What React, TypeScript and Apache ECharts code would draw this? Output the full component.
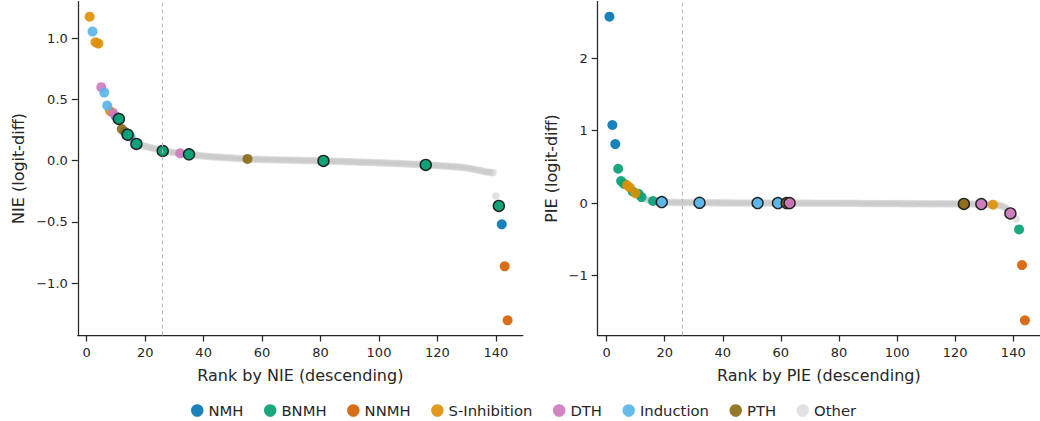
import { useEffect, useRef } from 'react';
import * as echarts from 'echarts';

const FONT = 'DejaVu Sans';

const categories = ['NMH', 'BNMH', 'NNMH', 'S-Inhibition', 'DTH', 'Induction', 'PTH', 'Other'];
const categoryColors: Record<string, string> = {
  NMH: '#0173b2',
  BNMH: '#029e73',
  NNMH: '#d55e00',
  'S-Inhibition': '#de8f05',
  DTH: '#cc78bc',
  Induction: '#56b4e9',
  PTH: '#8b6914',
  Other: '#bdbdbd',
};

const xTicks = [0, 20, 40, 60, 80, 100, 120, 140];
const nieTicks = [-1, -0.5, 0, 0.5, 1];
const pieTicks = [-1, 0, 1, 2];
const cutoffRank = 26;

// NIE values sorted descending, rank 1..144
const nieValues = [
  1.176, 1.054, 0.967, 0.956, 0.600, 0.556, 0.450, 0.405, 0.390, 0.360,
  0.341, 0.258, 0.236, 0.212, 0.195, 0.165, 0.137, 0.128, 0.122, 0.117,
  0.112, 0.106, 0.100, 0.094, 0.087, 0.079, 0.075, 0.072, 0.069, 0.066,
  0.063, 0.060, 0.057, 0.055, 0.052, 0.049, 0.046, 0.043, 0.040, 0.038,
  0.036, 0.034, 0.032, 0.030, 0.029, 0.027, 0.026, 0.024, 0.023, 0.021,
  0.020, 0.018, 0.017, 0.015, 0.014, 0.013, 0.012, 0.011, 0.011, 0.010,
  0.009, 0.009, 0.008, 0.007, 0.007, 0.006, 0.006, 0.005, 0.005, 0.004,
  0.004, 0.003, 0.003, 0.002, 0.002, 0.001, 0.001, 0.000, 0.000, -0.001,
  -0.002, -0.003, -0.003, -0.004, -0.005, -0.005, -0.006, -0.007, -0.008, -0.008,
  -0.009, -0.010, -0.011, -0.012, -0.013, -0.013, -0.014, -0.015, -0.016, -0.017,
  -0.018, -0.019, -0.020, -0.021, -0.022, -0.023, -0.024, -0.025, -0.026, -0.027,
  -0.028, -0.029, -0.030, -0.032, -0.033, -0.035, -0.036, -0.037, -0.038, -0.040,
  -0.041, -0.043, -0.044, -0.046, -0.047, -0.049, -0.051, -0.053, -0.055, -0.060,
  -0.064, -0.068, -0.073, -0.078, -0.083, -0.088, -0.092, -0.095, -0.098, -0.288,
  -0.370, -0.520, -0.863, -1.304,
];

// PIE values sorted descending, rank 1..144
const pieValues = [
  2.575, 1.078, 0.815, 0.474, 0.304, 0.265, 0.250, 0.215, 0.160, 0.134,
  0.128, 0.082, 0.060, 0.045, 0.035, 0.028, 0.022, 0.018, 0.014, 0.012,
  0.011, 0.010, 0.009, 0.009, 0.008, 0.008, 0.007, 0.007, 0.006, 0.006,
  0.005, 0.004, 0.004, 0.004, 0.003, 0.003, 0.003, 0.003, 0.002, 0.002,
  0.002, 0.002, 0.002, 0.001, 0.001, 0.001, 0.001, 0.001, 0.001, 0.000,
  0.000, 0.000, 0.000, 0.000, 0.000, 0.000, 0.000, 0.000, 0.000, 0.000,
  0.000, 0.000, 0.000, -0.001, -0.001, -0.001, -0.001, -0.001, -0.001, -0.001,
  -0.002, -0.002, -0.002, -0.002, -0.002, -0.003, -0.003, -0.003, -0.003, -0.003,
  -0.003, -0.004, -0.004, -0.004, -0.004, -0.004, -0.005, -0.005, -0.005, -0.005,
  -0.005, -0.006, -0.006, -0.006, -0.006, -0.006, -0.007, -0.007, -0.007, -0.007,
  -0.007, -0.008, -0.008, -0.008, -0.008, -0.008, -0.009, -0.009, -0.009, -0.009,
  -0.009, -0.010, -0.010, -0.010, -0.010, -0.010, -0.011, -0.011, -0.011, -0.011,
  -0.012, -0.012, -0.012, -0.012, -0.012, -0.013, -0.013, -0.013, -0.014, -0.015,
  -0.017, -0.019, -0.022, -0.026, -0.032, -0.042, -0.058, -0.085, -0.143, -0.170,
  -0.220, -0.364, -0.857, -1.620,
];

// [rank, category] of coloured (non-outlined) points
const nieColored: [number, string][] = [
  [1, 'S-Inhibition'], [2, 'Induction'], [3, 'S-Inhibition'], [4, 'S-Inhibition'],
  [5, 'DTH'], [6, 'Induction'], [7, 'Induction'], [8, 'S-Inhibition'], [9, 'DTH'],
  [10, 'NMH'], [12, 'PTH'], [13, 'NMH'], [15, 'Induction'], [32, 'DTH'], [55, 'PTH'],
  [142, 'NMH'], [143, 'NNMH'], [144, 'NNMH'],
];
// [rank, category] of outlined points
const nieOutlined: [number, string][] = [
  [11, 'BNMH'], [14, 'BNMH'], [17, 'BNMH'], [26, 'BNMH'], [35, 'BNMH'],
  [81, 'BNMH'], [116, 'BNMH'], [141, 'BNMH'],
];

const pieColored: [number, string][] = [
  [1, 'NMH'], [2, 'NMH'], [3, 'NMH'], [4, 'BNMH'], [5, 'BNMH'], [6, 'BNMH'],
  [7, 'S-Inhibition'], [8, 'S-Inhibition'], [9, 'BNMH'], [10, 'S-Inhibition'],
  [11, 'BNMH'], [12, 'BNMH'], [16, 'BNMH'], [133, 'S-Inhibition'], [142, 'BNMH'],
  [143, 'NNMH'], [144, 'NNMH'],
];
const pieOutlined: [number, string][] = [
  [19, 'Induction'], [32, 'Induction'], [52, 'Induction'], [59, 'Induction'],
  [62, 'PTH'], [63, 'DTH'], [123, 'PTH'], [129, 'DTH'], [139, 'DTH'],
];

const textColor = '#262626';

function buildSeries(
  values: number[],
  colored: [number, string][],
  outlined: [number, string][],
  axisIndex: number,
) {
  const used = new Set<number>([...colored.map((d) => d[0]), ...outlined.map((d) => d[0])]);
  const other = values
    .map((v, i) => [i + 1, v])
    .filter((d) => !used.has(d[0] as number));
  const series: any[] = [];
  series.push({
    name: 'Other',
    type: 'scatter',
    xAxisIndex: axisIndex,
    yAxisIndex: axisIndex,
    data: other,
    symbolSize: 7.5,
    itemStyle: { color: categoryColors.Other, opacity: 0.45 },
    silent: true,
    z: 1,
    markLine: {
      silent: true,
      symbol: ['none', 'none'],
      label: { show: false },
      lineStyle: { color: '#b8b8b8', width: 1, type: [4, 3] },
      data: [{ xAxis: cutoffRank }],
    },
  });
  categories
    .filter((c) => c !== 'Other')
    .forEach((c) => {
      series.push({
        name: c,
        type: 'scatter',
        xAxisIndex: axisIndex,
        yAxisIndex: axisIndex,
        data: colored.filter((d) => d[1] === c).map((d) => [d[0], values[d[0] - 1]]),
        symbolSize: 10,
        itemStyle: { color: categoryColors[c], opacity: 0.9 },
        z: 2,
      });
    });
  series.push({
    name: 'Highlighted',
    type: 'scatter',
    xAxisIndex: axisIndex,
    yAxisIndex: axisIndex,
    data: outlined.map((d) => ({
      value: [d[0], values[d[0] - 1]],
      itemStyle: { color: categoryColors[d[1]] },
    })),
    symbolSize: 11,
    itemStyle: { borderColor: '#1a1a1a', borderWidth: 1.4, opacity: 0.95 },
    z: 3,
  });
  return series;
}

function xAxis(gridIndex: number, name: string) {
  return {
    type: 'value',
    gridIndex,
    min: -3.05,
    max: 149.2,
    name,
    nameLocation: 'middle',
    nameGap: 32,
    nameTextStyle: { color: textColor, fontSize: 16, fontFamily: FONT },
    axisLine: { show: true, onZero: false, lineStyle: { color: textColor, width: 1.25 } },
    axisTick: { show: true, length: 6, customValues: xTicks, lineStyle: { color: textColor, width: 1.25 } },
    axisLabel: { customValues: xTicks, color: textColor, fontSize: 13, fontFamily: FONT, margin: 10 },
    splitLine: { show: false },
  };
}

function yAxis(gridIndex: number, name: string, min: number, max: number, ticks: number[], digits: number, gap: number) {
  return {
    type: 'value',
    gridIndex,
    min,
    max,
    name,
    nameLocation: 'middle',
    nameGap: gap,
    nameTextStyle: { color: textColor, fontSize: 16, fontFamily: FONT },
    axisLine: { show: true, onZero: false, lineStyle: { color: textColor, width: 1.25 } },
    axisTick: { show: true, length: 6, customValues: ticks, lineStyle: { color: textColor, width: 1.25 } },
    axisLabel: {
      customValues: ticks,
      color: textColor,
      fontSize: 13,
      fontFamily: FONT,
      margin: 10,
      formatter: (v: number) => v.toFixed(digits).replace('-', '\u2212'),
    },
    splitLine: { show: false },
  };
}

export default function App() {
  const ref = useRef<HTMLDivElement>(null);

  useEffect(() => {
    document.body.style.margin = '0';
    if (!ref.current) return;
    const chart = echarts.init(ref.current, null, { renderer: 'svg' });
    chart.setOption({
      animation: false,
      backgroundColor: '#ffffff',
      textStyle: { fontFamily: FONT },
      grid: [
        { left: 77.8, top: 1.5, width: 445, height: 334 },
        { left: 597.7, top: 1.5, width: 445, height: 334 },
      ],
      xAxis: [xAxis(0, 'Rank by NIE (descending)'), xAxis(1, 'Rank by PIE (descending)')],
      yAxis: [
        yAxis(0, 'NIE (logit-diff)', -1.428, 1.3, nieTicks, 1, 51),
        yAxis(1, 'PIE (logit-diff)', -1.83, 2.785, pieTicks, 0, 38),
      ],
      legend: {
        data: categories,
        left: 186,
        top: 398,
        icon: 'circle',
        itemWidth: 12.5,
        itemHeight: 12.5,
        itemGap: 20.5,
        textStyle: { color: textColor, fontSize: 14.8, fontFamily: FONT },
      },
      series: [
        ...buildSeries(nieValues, nieColored, nieOutlined, 0),
        ...buildSeries(pieValues, pieColored, pieOutlined, 1),
      ],
    });
    return () => chart.dispose();
  }, []);

  return <div ref={ref} style={{ width: 1040, height: 421 }} />;
}
